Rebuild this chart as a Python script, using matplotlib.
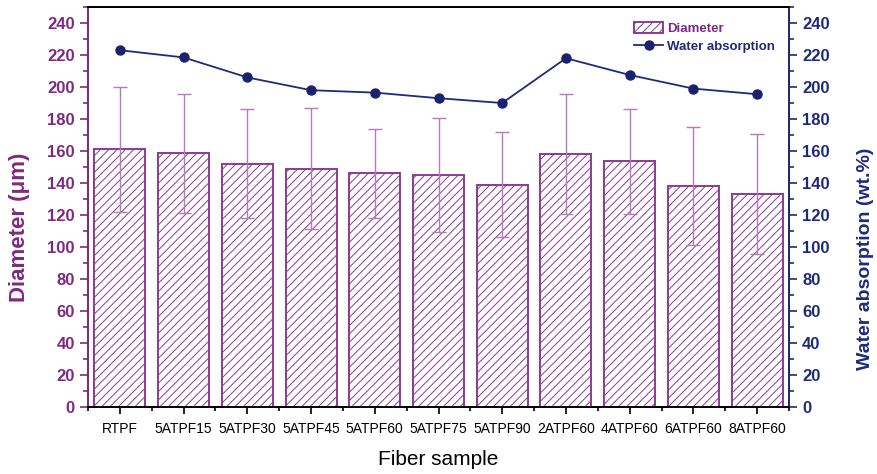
import numpy as np
import matplotlib.pyplot as plt
from matplotlib.ticker import MultipleLocator

plt.rcParams['font.family'] = ['Liberation Sans', 'DejaVu Sans']
plt.rcParams['hatch.linewidth'] = 0.7
plt.rcParams['hatch.color'] = '#a678ad'

samples = ['RTPF', '5ATPF15', '5ATPF30', '5ATPF45', '5ATPF60', '5ATPF75',
           '5ATPF90', '2ATPF60', '4ATPF60', '6ATPF60', '8ATPF60']
diameter = [161, 158.5, 152, 149, 146, 145, 139, 158, 153.5, 138, 133]
diameter_sd = [39, 37, 34, 38, 28, 35.5, 33, 37.5, 33, 37, 37.5]
water_abs = [223, 218.5, 206, 198, 196.5, 193, 190, 218, 207.5, 199, 195.5]

purple = '#7d2a80'
bar_edge = '#8c3a94'
err_col = '#b57ab9'
navy = '#1e2a7c'
marker_col = '#1a2270'

x = np.arange(len(samples))

fig = plt.figure(figsize=(8.77, 4.74), dpi=100)
ax = fig.add_axes([0.1003, 0.1414, 0.7994, 0.8438])
ax2 = ax.twinx()

bars = ax.bar(x, diameter, width=0.8, facecolor='white', edgecolor=bar_edge,
              linewidth=1.4, hatch='////', label='Diameter', zorder=2)
ax.errorbar(x, diameter, yerr=diameter_sd, fmt='none', ecolor=err_col,
            elinewidth=1.0, capsize=5, capthick=1.0, zorder=3)

line, = ax2.plot(x, water_abs, '-o', color=navy, markerfacecolor=marker_col,
                 markeredgecolor=marker_col, markersize=6.5, linewidth=1.3,
                 label='Water absorption')

ax.set_xlim(-0.5, 10.5)
ax.set_ylim(0, 250)
ax2.set_ylim(0, 250)

ax.set_xticks(x)
ax.set_xticklabels(samples, fontsize=10)
ax.xaxis.set_minor_locator(MultipleLocator(1, offset=0.5))
ax.tick_params(axis='x', which='major', direction='out', length=5, width=1.2, pad=6)
ax.tick_params(axis='x', which='minor', direction='out', length=3, width=1.2)

ax.yaxis.set_major_locator(MultipleLocator(20))
ax.yaxis.set_minor_locator(MultipleLocator(10))
ax.tick_params(axis='y', which='major', direction='out', length=6, width=1.2,
               colors=purple, labelsize=12)
ax.tick_params(axis='y', which='minor', direction='out', length=3.5, width=1.2,
               colors=purple)
for lbl in ax.get_yticklabels():
    lbl.set_fontweight('bold')

ax2.yaxis.set_major_locator(MultipleLocator(20))
ax2.yaxis.set_minor_locator(MultipleLocator(10))
ax2.tick_params(axis='y', which='major', direction='out', length=6, width=1.2,
                colors=navy, labelsize=12)
ax2.tick_params(axis='y', which='minor', direction='out', length=3.5, width=1.2,
                colors=navy)
for lbl in ax2.get_yticklabels():
    lbl.set_fontweight('bold')

for a in (ax, ax2):
    a.spines['top'].set_color('black')
    a.spines['bottom'].set_color('black')
    a.spines['left'].set_color(purple)
    a.spines['right'].set_color(navy)
    for s in a.spines.values():
        s.set_linewidth(1.4)

ax.set_ylabel('Diameter (\u03bcm)', fontsize=16, fontweight='bold', color=purple)
ax.yaxis.set_label_coords(-0.083, 0.45)
ax2.set_ylabel('Water absorption (wt.%)', fontsize=14, fontweight='bold',
               color=navy)
ax2.yaxis.set_label_coords(1.097, 0.37)
ax.set_xlabel('Fiber sample', fontsize=15, labelpad=10)

leg = ax2.legend([bars, line], ['Diameter', 'Water absorption'],
                 loc='upper right', bbox_to_anchor=(0.995, 0.99), frameon=False,
                 prop={'size': 9.5, 'weight': 'bold'}, handlelength=2.2,
                 handleheight=1.0, handletextpad=0.3, labelspacing=0.35,
                 borderaxespad=0.4)
leg.get_texts()[0].set_color(purple)
leg.get_texts()[1].set_color(navy)

plt.savefig('out.png', dpi=100)
